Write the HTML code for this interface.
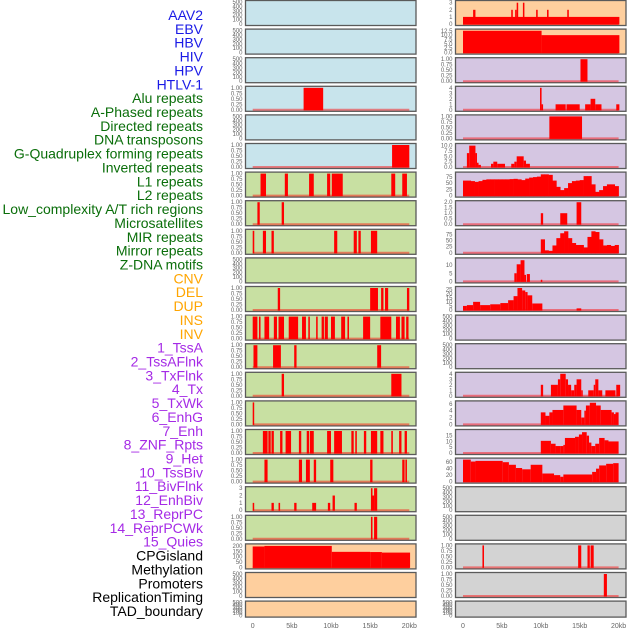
<!DOCTYPE html>
<html><head><meta charset="utf-8"><style>
html,body{margin:0;padding:0;background:#fff;width:630px;height:630px;overflow:hidden}
svg{display:block;font-family:"Liberation Sans",sans-serif}
</style></head><body>
<svg id="chart" width="630" height="630"></svg>
<script>
// ---- data ----
const trackLabels = ["AAV2","EBV","HBV","HIV","HPV","HTLV-1","Alu repeats","A-Phased repeats","Directed repeats","DNA transposons","G-Quadruplex forming repeats","Inverted repeats","L1 repeats","L2 repeats","Low_complexity A/T rich regions","Microsatellites","MIR repeats","Mirror repeats","Z-DNA motifs","CNV","DEL","DUP","INS","INV","1_TssA","2_TssAFlnk","3_TxFlnk","4_Tx","5_TxWk","6_EnhG","7_Enh","8_ZNF_Rpts","9_Het","10_TssBiv","11_BivFlnk","12_EnhBiv","13_ReprPC","14_ReprPCWk","15_Quies","CPGisland","Methylation","Promoters","ReplicationTiming","TAD_boundary"];
const labelGroups = ["v","v","v","v","v","v","r","r","r","r","r","r","r","r","r","r","r","r","r","s","s","s","s","s","c","c","c","c","c","c","c","c","c","c","c","c","c","c","c","o","o","o","o","o"];
const xTickValues = [0,5,10,15,20];
const xTickLabels = ["0","5kb","10kb","15kb","20kb"];
const ticksEmpty = [0,100,200,300,400,500];
const ticksBin = [0,0.25,0.5,0.75,1];
// left column segments [startKb,endKb,value]
const L4 = [[6.5,9.0,1]];
const L6 = [[17.8,20,1]];
const L7 = [[1.0,1.7,1],[4.1,4.5,1],[7.2,7.8,1],[9.5,9.9,1],[10.1,11.5,1],[17.7,18.2,1],[19.1,19.7,1]];
const L8 = [[0.6,0.9,1],[3.7,4.0,1]];
const L9 = [[0,0.2,1],[1.3,1.7,1],[2.4,2.7,1],[10.4,10.8,1],[12.9,13.3,1],[13.5,13.8,1],[15.1,15.9,1]];
const L11 = [[3.2,3.5,1],[15.0,16.0,1],[16.4,16.7,1],[16.9,17.3,1],[19.7,20.0,1]];
const L12 = [[0,0.6,1],[0.8,1.0,1],[1.5,2.1,1],[2.7,3.1,1],[3.3,4.0,1],[4.6,5.8,1],[6.3,6.8,1],[7.1,7.3,1],[8.1,8.3,1],[8.8,9.1,1],[9.2,9.6,1],[10.0,10.5,1],[11.3,11.8,1],[12.1,12.3,1],[14.1,15.0,1],[16.3,17.7,1],[18.3,18.8,1],[19.0,19.4,1],[19.6,19.9,1]];
const L13 = [[0.1,0.6,1],[2.6,3.6,1],[5.3,5.6,1],[15.9,16.4,1]];
const L14 = [[3.7,4.0,1],[17.7,19.0,1]];
const L15 = [[0,0.15,1]];
const L16 = [[1.3,1.9,1],[2.0,2.3,1],[2.4,2.7,1],[3.5,3.8,1],[4.2,4.9,1],[5.9,6.2,1],[6.9,7.2,1],[7.3,7.8,1],[9.5,10.0,1],[10.4,11.4,1],[12.6,12.9,1],[13.1,13.3,1],[14.2,14.5,1],[15.1,15.9,1],[16.3,16.7,1],[17.7,17.9,1],[18.7,19.0,1],[19.4,19.7,1]];
const L17 = [[1.5,1.9,1],[5.9,6.3,1],[6.8,7.3,1],[7.8,8.1,1],[9.9,10.3,1],[15.0,15.3,1],[19.1,19.4,1],[19.5,19.7,1]];
const L18 = [[0,0.15,1],[2.4,2.7,1],[3.3,3.5,1],[5.3,5.6,1],[7.6,8.1,1],[9.6,9.9,1],[13.0,13.3,1],[10.2,10.5,2],[15.1,15.3,3],[15.3,15.5,2],[15.5,15.9,3]];
const L19 = [[15.1,15.3,1],[15.5,15.9,1]];
const L20 = [[0,1.5,195],[1.5,10.1,200],[10.1,15,145],[15,16.5,143],[16.5,20.1,138]];
// right column segments
const R1 = [[0,20.1,1],[1.3,1.6,2],[6.2,6.4,2],[6.7,6.8,2],[6.9,7.0,3],[7.7,7.8,3],[9.4,9.6,2],[10.8,11.0,2],[13.4,13.6,2]];
const R2 = [[0,10.1,12.5],[10.1,20.1,10]];
const R3 = [[15.1,16.0,1]];
const R4 = [[9.9,10.1,4],[10.1,10.2,1],[11.9,13.2,1],[13.3,15.0,1],[15.7,16.4,1],[16.4,17.0,2],[17.0,17.8,1],[19.7,20.1,1]];
const R5 = [[11.1,15.3,1]];
const R6 = [[0.5,0.8,6.5],[0.8,1.6,10],[1.6,1.8,6.5],[1.8,2.0,2],[2.0,2.3,1],[3.6,3.9,1.5],[3.9,4.4,2.5],[4.4,5.4,1.5],[6.2,6.6,1.5],[6.6,6.9,2.5],[6.9,7.8,5],[7.8,8.1,3],[8.1,8.6,1.5]];
const R7bins = [60,60,58,55,58,63,65,65,65,65,65,65,66,67,65,62,68,72,74,76,85,85,83,60,35,22,30,50,58,60,62,78,78,45,15,22,38,45,45,38];
const R8 = [[10.0,10.3,1],[12.5,13.4,1],[14.6,15.2,2]];
const R9bins = [0,0,0,0,0,0,0,0,0,0,0,0,0,0,0,0,0,0,0,0,55,10,8,30,60,80,88,60,40,32,32,22,65,88,85,55,30,32,28,32];
const R10 = [[6.6,6.9,5],[6.9,7.4,10.5],[7.4,7.9,13],[7.9,8.1,4],[8.2,8.6,4.5],[10.0,10.1,1]];
const R11 = [[0,0.5,5],[0.5,1.3,6],[1.3,2.2,10],[2.2,3.5,6],[3.5,4.8,7],[4.8,5.8,8.5],[5.8,6.5,12],[6.5,7.0,17],[7.0,7.6,27],[7.6,8.0,24],[8.0,8.3,22],[8.3,8.9,18],[8.9,10.2,8],[14.6,15.2,2]];
const R14 = [[10.0,10.3,2],[11.3,12.2,2],[12.2,12.5,3],[12.5,13.2,4],[13.2,13.5,3],[13.5,13.9,2],[13.9,14.3,1],[14.3,14.6,2],[14.6,15.2,3],[15.2,15.3,1],[16.1,16.8,1],[16.8,17.0,2],[17.0,17.4,3],[17.4,17.9,1],[18.3,19.6,1],[19.7,20.2,2]];
const R15 = [[10.0,10.6,3.5],[10.6,11.1,2.5],[11.1,11.5,3.5],[11.5,12.9,4.2],[12.9,14.6,5.5],[14.6,15.2,4.2],[15.2,15.6,2],[15.6,15.8,4],[15.8,16.3,5.5],[16.3,17.1,6.3],[17.1,17.7,5.5],[17.7,19.1,4.2],[19.1,19.4,3.5],[19.4,19.6,3],[19.6,20.0,3.5]];
const R16 = [[10.0,11.3,10.5],[11.3,11.9,8],[11.9,12.5,6],[12.5,12.9,6],[12.9,13.1,7],[13.1,14.4,13],[14.4,14.9,14],[14.9,15.3,16],[15.3,15.9,18],[15.9,16.2,15],[16.2,16.5,9],[16.5,17.0,6],[17.0,17.5,8],[17.5,18.2,13],[18.2,18.7,11],[18.7,20.0,10]];
const R17 = [[0,1.0,68],[1.0,1.6,62],[1.6,5.1,64],[5.1,5.9,60],[5.9,6.8,52],[6.8,7.6,42],[7.6,8.7,38],[8.7,10.2,52],[10.2,11.7,25],[11.7,12.5,20],[12.5,12.9,15],[12.9,16.6,22],[16.6,17.1,30],[17.1,17.5,40],[17.5,18.4,50],[18.4,19.3,55],[19.3,20.0,57]];
const R20 = [[2.5,2.7,1],[14.8,15.2,1],[16.0,16.3,1],[16.4,16.8,1]];
const R21 = [[18.1,18.5,1]];

// ---- panel config ----
const BL="#c8e4ec",GR="#c8e0a2",PU="#d5c6e2",OR="#fecf9e",GY="#d3d3d3";
const panels = [
 // [col,row,bg,ticks,tickLabels,ymax,segs,bins]
 [0,0,BL,ticksEmpty,null,500,null,null],[1,0,OR,[0,1,2,3],null,3.1,R1,null],
 [0,1,BL,ticksEmpty,null,500,null,null],[1,1,OR,[0,2.5,5,7.5,10,12.5],["0.0","2.5","5.0","7.5","10.0","12.5"],12.6,R2,null],
 [0,2,BL,ticksEmpty,null,500,null,null],[1,2,PU,ticksBin,null,1,R3,null],
 [0,3,BL,ticksBin,null,1,L4,null],[1,3,PU,[0,1,2,3,4],null,4,R4,null],
 [0,4,BL,ticksEmpty,null,500,null,null],[1,4,PU,ticksBin,null,1,R5,null],
 [0,5,BL,ticksBin,null,1,L6,null],[1,5,PU,[0,2.5,5,7.5,10],["0.0","2.5","5.0","7.5","10.0"],10.3,R6,null],
 [0,6,GR,ticksBin,null,1,L7,null],[1,6,PU,[0,25,50,75],null,88,null,R7bins],
 [0,7,GR,ticksBin,null,1,L8,null],[1,7,PU,[0,0.5,1,1.5,2],["0.0","0.5","1.0","1.5","2.0"],2,R8,null],
 [0,8,GR,ticksBin,null,1,L9,null],[1,8,PU,[0,25,50,75],null,90,null,R9bins],
 [0,9,GR,ticksEmpty,null,500,null,null],[1,9,PU,[0,5,10],null,13.5,R10,null],
 [0,10,GR,ticksBin,null,1,L11,null],[1,10,PU,[0,5,10,15,20,25],null,27,R11,null],
 [0,11,GR,ticksBin,null,1,L12,null],[1,11,PU,ticksEmpty,null,500,null,null],
 [0,12,GR,ticksBin,null,1,L13,null],[1,12,PU,ticksEmpty,null,500,null,null],
 [0,13,GR,ticksBin,null,1,L14,null],[1,13,PU,[0,1,2,3,4],null,4,R14,null],
 [0,14,GR,ticksBin,null,1,L15,null],[1,14,PU,[0,2,4,6],null,6.4,R15,null],
 [0,15,GR,ticksBin,null,1,L16,null],[1,15,PU,[0,5,10,15],null,19,R16,null],
 [0,16,GR,ticksBin,null,1,L17,null],[1,16,PU,[0,20,40,60],null,68,R17,null],
 [0,17,GR,[0,1,2,3],null,3,L18,null],[1,17,GY,ticksEmpty,null,500,null,null],
 [0,18,GR,ticksBin,null,1,L19,null],[1,18,GY,ticksEmpty,null,500,null,null],
 [0,19,OR,[0,50,100,150,200],null,205,L20,null],[1,19,GY,ticksBin,null,1,R20,null],
 [0,20,OR,ticksEmpty,null,500,null,null],[1,20,GY,ticksBin,null,1,R21,null],
 [0,21,OR,ticksEmpty,null,500,null,null],[1,21,GY,ticksEmpty,null,500,null,null]
];

const NS="http://www.w3.org/2000/svg";
const svg=document.getElementById('chart');
function mk(tag,attrs,parent){const e=document.createElementNS(NS,tag);for(const k in attrs)e.setAttribute(k,attrs[k]);(parent||svg).appendChild(e);return e;}
const colX=[245.5,455.5], colW=170.5;
const x0=[252.7,463], xs=[7.83,7.78];
function xScale(col,kb){return x0[col]+kb*xs[col];}

// labels
const groupColor={v:"#1a1ae6",r:"#0a6e0a",s:"#ffa500",c:"#a52ae6",o:"#000"};
trackLabels.forEach((t,i)=>{
  const el=mk('text',{x:203,y:15+i*13.86+5,'text-anchor':'end','font-size':'14',fill:groupColor[labelGroups[i]]});
  el.textContent=t;
  
  
});

panels.forEach((p,idx)=>{
  const [col,row,bg,ticks,tl,ymax,segs,bins]=p;
  const top=0.5+row*28.6, h=(row===21?16:25);
  const left=colX[col];
  const g=mk('g',{});
  
  
  mk('rect',{x:left,y:top,width:colW,height:h,fill:bg,stroke:"#5a5a5a",'stroke-width':1.3},g);
  const yb=top+h-1.5, yt=top+1.5;
  const yS=v=>yb-(v/ymax)*(yb-yt);
  // ticks
  ticks.forEach((v,i)=>{
    const lab=tl?tl[i]:(ticks===ticksBin?v.toFixed(2):String(v));
    const t=mk('text',{x:left-3,y:yS(v)+2,'text-anchor':'end','font-size':'6',fill:"#666"},g);
    t.textContent=lab;
    
    
  });
  if(!segs&&!bins) return;
  const bl=mk('line',{x1:xScale(col,0),x2:xScale(col,20),y1:yb,y2:yb,stroke:"#ff0000",'stroke-opacity':0.45,'stroke-width':2},g);
  
  
  if(segs) segs.forEach(s=>{
    const xa=xScale(col,s[0]), xb=xScale(col,s[1]);
    const r=mk('rect',{x:xa,y:yS(s[2]),width:Math.max(1.5,xb-xa),height:yb-yS(s[2])+0.5,fill:"#ff0000"},g);
    
    
  });
  if(bins) bins.forEach((v,i)=>{
    if(v<=0) return;
    const xa=xScale(col,i*0.5), xb=xScale(col,(i+1)*0.5);
    const r=mk('rect',{x:xa,y:yS(v),width:xb-xa+0.3,height:yb-yS(v)+0.5,fill:"#ff0000"},g);
    
    
  });
});

// x axes
[0,1].forEach(col=>{
  xTickValues.forEach((v,i)=>{
    const t=mk('text',{x:xScale(col,v),y:628,'text-anchor':'middle','font-size':'7',fill:"#666"});
    t.textContent=xTickLabels[i];
    
    
  });
});
</script>
</body></html>
